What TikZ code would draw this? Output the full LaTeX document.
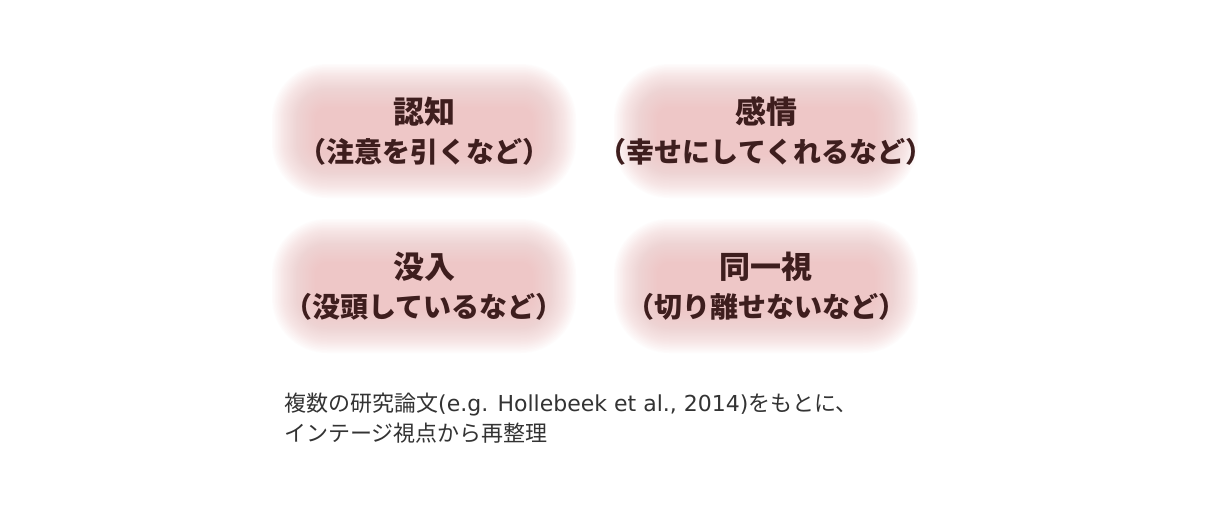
\documentclass[tikz,border=0pt]{standalone}
\usepackage{fontspec}
\newfontfamily\jpfont{Noto Sans CJK JP}
\newfontfamily\latinfont{DejaVu Sans}
\usetikzlibrary{positioning,calc,backgrounds}
\definecolor{itemtext}{RGB}{62,30,30}
\definecolor{notetext}{RGB}{51,51,51}
\definecolor{glowpink}{RGB}{238,193,193}
\newcommand{\titlefont}{\fontsize{31}{39}\selectfont}
\tikzstyle{item} = [align=center, text=itemtext, font=\jpfont\bfseries\fontsize{28}{39}\selectfont]
\tikzstyle{note} = [align=left, text=notetext, font=\jpfont\fontsize{22}{30}\selectfont, anchor=north west, inner sep=0pt]
\tikzstyle{glow} = [fill=glowpink, opacity=0.05]

\begin{document}
\begin{tikzpicture}[x=1pt, y=1pt, node distance=342pt]
    \useasboundingbox (0,0) rectangle (1215,-504);

    \node[item] (ninchi) at (424,-131) {{\titlefont 認知}\\（注意を引くなど）};
    \node[item, right of=ninchi] (kanjo) {{\titlefont 感情}\\（幸せにしてくれるなど）};
    \node[item, below of=ninchi, node distance=155pt] (botsunyu) {{\titlefont 没入}\\（没頭しているなど）};
    \node[item, right of=botsunyu] (doitsu) {{\titlefont 同一視}\\（切り離せないなど）};

    \node[note] (note) at (284,-393) {複数の研究論文{\latinfont\fontsize{22}{30}\selectfont(e.g. Hollebeek et al., 2014)}をもとに、\\インテージ視点から再整理};

    % white page and soft glow behind each item
    \begin{scope}[on background layer]
        \fill[white] (0,0) rectangle (1215,-504);
        \foreach \n in {ninchi,kanjo,botsunyu,doitsu}
            \foreach \i in {0,...,29}
                \fill[glow, rounded corners=55pt-1.5*\i pt] ($(\n.center)+(-152+1.5*\i,-67+1.5*\i)$) rectangle ($(\n.center)+(152-1.5*\i,67-1.5*\i)$);
    \end{scope}
\end{tikzpicture}
\end{document}
